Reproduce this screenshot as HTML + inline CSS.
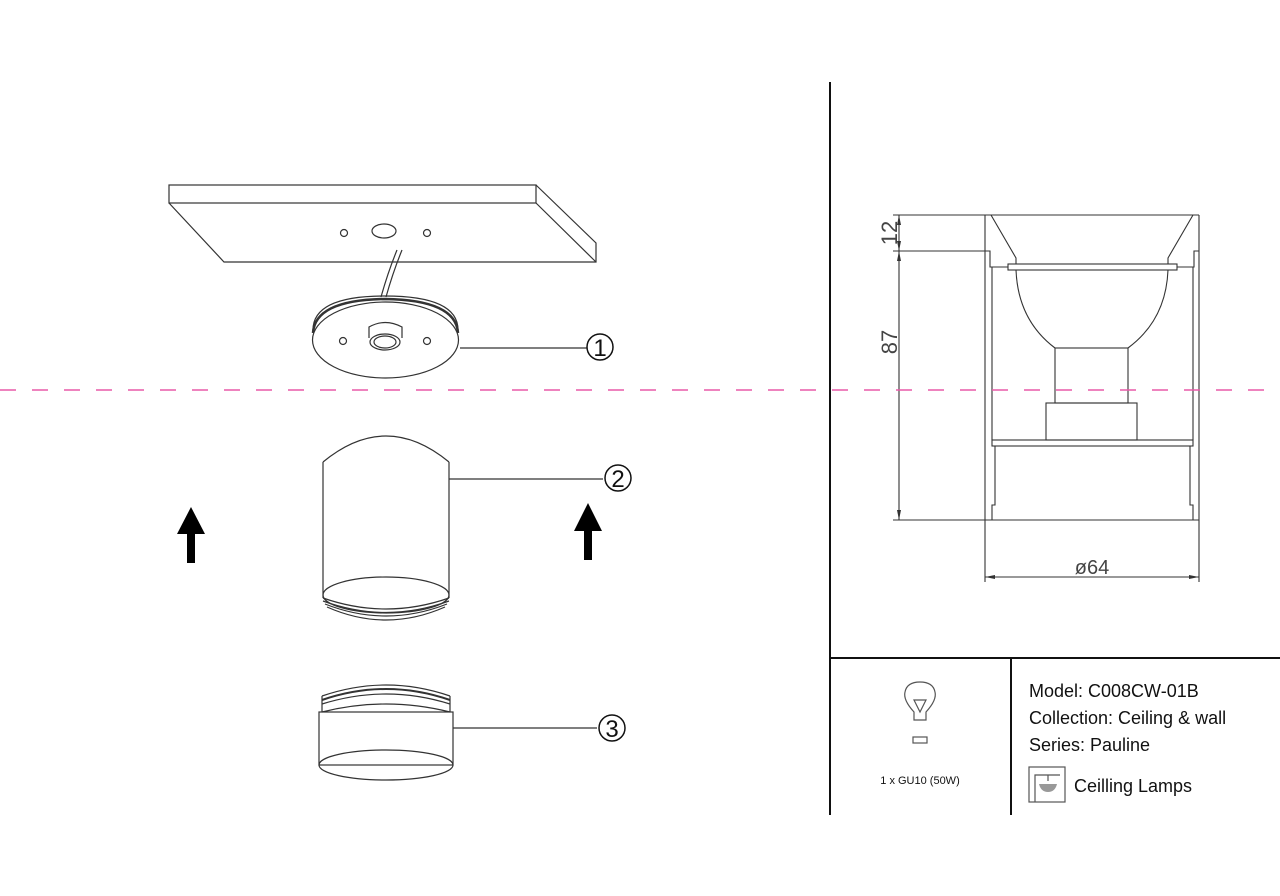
<!DOCTYPE html>
<html><head><meta charset="utf-8"><style>
html,body{margin:0;padding:0;background:#fff;}
svg{display:block;}
text{font-family:"Liberation Sans",sans-serif;}
</style></head><body>
<svg width="1280" height="896" viewBox="0 0 1280 896" xmlns="http://www.w3.org/2000/svg">
<rect width="1280" height="896" fill="#fff"/>
<g fill="none" stroke="#333" stroke-width="1.2">
<!-- plate -->
<rect x="169" y="185" width="367" height="18"/>
<polyline points="169,203 224,262 596,262 596,243 536,185"/>
<line x1="536" y1="203" x2="596" y2="262"/>
<circle cx="344" cy="233" r="3.5"/>
<ellipse cx="384" cy="231" rx="12" ry="7"/>
<circle cx="427" cy="233" r="3.5"/>
<path d="M397,250 Q388,272 381,297"/>
<path d="M402,250 Q393,272 386,297"/>
<!-- disc -->
<path d="M313,330 Q313,296 385,296 Q458,296 458,330"/>
<path d="M313,333 Q315,300 385,299 Q456,300 458,333" stroke-width="2.5"/>
<ellipse cx="385.5" cy="340" rx="73" ry="38"/>
<path d="M369,338 L369,327 Q385,318 402,327 L402,338"/>
<ellipse cx="385" cy="342" rx="15" ry="8"/>
<ellipse cx="385" cy="342" rx="11" ry="6"/>
<circle cx="343" cy="341" r="3.5"/>
<circle cx="427" cy="341" r="3.5"/>
<line x1="460" y1="348" x2="587" y2="348"/>
<!-- cylinder 2 -->
<path d="M323,462 Q386,410 449,462"/>
<line x1="323" y1="462" x2="323" y2="598"/>
<line x1="449" y1="462" x2="449" y2="598"/>
<ellipse cx="386" cy="595" rx="63" ry="18"/>
<path d="M323,598 Q386,620 449,598"/>
<path d="M323,601 Q386,624 449,601"/>
<path d="M325,604 Q386,628 447,604"/>
<path d="M327,607 Q386,633 445,607"/>
<line x1="449" y1="479" x2="603" y2="479"/>
<!-- part 3 -->
<path d="M322,696 Q386,674 450,696"/>
<path d="M322,700 Q386,678 450,700" stroke-width="2"/>
<path d="M322,704 Q386,684 450,704"/>
<line x1="322" y1="696" x2="322" y2="712"/>
<line x1="450" y1="696" x2="450" y2="712"/>
<path d="M322,712 Q386,696 450,712"/>
<rect x="319" y="712" width="134" height="53"/>
<ellipse cx="386" cy="765" rx="67" ry="15"/>
<line x1="453" y1="728" x2="597" y2="728"/>
</g>
<g font-size="26" fill="#111">
<circle cx="600" cy="347" r="13" fill="none" stroke="#111" stroke-width="1.5"/><text x="600" y="356" text-anchor="middle" font-family="Liberation Serif" font-size="24">1</text>
<circle cx="618" cy="478" r="13" fill="none" stroke="#111" stroke-width="1.5"/><text x="618" y="487" text-anchor="middle" font-family="Liberation Serif" font-size="24">2</text>
<circle cx="612" cy="728" r="13" fill="none" stroke="#111" stroke-width="1.5"/><text x="612" y="737" text-anchor="middle" font-family="Liberation Serif" font-size="24">3</text>
</g>
<!-- arrows -->
<polygon points="191,507 205,534 195,534 195,563 187,563 187,534 177,534" fill="#000"/>
<polygon points="588,503 602,531 592,531 592,560 584,560 584,531 574,531" fill="#000"/>
<!-- frame lines -->
<g stroke="#111" stroke-width="2" fill="none">
<line x1="830" y1="82" x2="830" y2="815"/>
<line x1="830" y1="658" x2="1280" y2="658"/>
<line x1="1011" y1="658" x2="1011" y2="815"/>
</g>
<!-- dimension drawing -->
<g fill="none" stroke="#333" stroke-width="1.1">
<line x1="985" y1="215" x2="1199" y2="215"/>
<line x1="985" y1="215" x2="985" y2="520"/>
<line x1="1199" y1="215" x2="1199" y2="520"/>
<line x1="985" y1="520" x2="1199" y2="520"/>
<polyline points="991,215 1016,258 1016,264"/>
<polyline points="1193,215 1168,258 1168,264"/>
<polyline points="985,251 990,251 990,267 1008,267"/>
<polyline points="1199,251 1194,251 1194,267 1177,267"/>
<rect x="1008" y="264" width="169" height="6"/>
<path d="M1016,270 Q1018,320 1055,348"/>
<path d="M1168,270 Q1166,320 1128,348"/>
<rect x="1055" y="348" width="73" height="55"/>
<rect x="1046" y="403" width="91" height="37"/>
<line x1="992" y1="267" x2="992" y2="440"/>
<line x1="1193" y1="267" x2="1193" y2="440"/>
<rect x="992" y="440" width="201" height="6"/>
<polyline points="995,446 995,505 992,505 992,520"/>
<polyline points="1190,446 1190,505 1193,505 1193,520"/>
<!-- dims -->
<line x1="899" y1="215" x2="899" y2="520"/>
<line x1="893" y1="215" x2="985" y2="215"/>
<line x1="893" y1="251" x2="985" y2="251"/>
<line x1="893" y1="520" x2="985" y2="520"/>
<line x1="985" y1="520" x2="985" y2="582"/>
<line x1="1199" y1="520" x2="1199" y2="582"/>
<line x1="985" y1="577" x2="1199" y2="577"/>
</g>
<g fill="#333">
<polygon points="899,215 897,225 901,225"/><polygon points="899,251 897,241 901,241"/>
<polygon points="899,251 897,261 901,261"/><polygon points="899,520 897,510 901,510"/>
<polygon points="985,577 995,575 995,579"/><polygon points="1199,577 1189,575 1189,579"/>
</g>
<g fill="#444" font-size="22">
<text transform="translate(897,233) rotate(-90)" text-anchor="middle">12</text>
<text transform="translate(897,342) rotate(-90)" text-anchor="middle">87</text>
<text x="1092" y="574" text-anchor="middle" font-size="20">ø64</text>
</g>
<!-- dashed line -->
<line x1="0" y1="390" x2="1280" y2="390" stroke="#e85aa8" stroke-width="1.5" stroke-dasharray="16,16"/>
<!-- bulb icon -->
<g fill="none" stroke="#555" stroke-width="1.2">
<path d="M914,720 L914,712 Q903,700 905,692 Q907,682 920,682 Q933,682 935,692 Q937,700 926,712 L926,720 Z"/>
<polygon points="914,700 926,700 920,712"/>
<rect x="913" y="737" width="14" height="6"/>
<rect x="1029" y="767" width="36" height="35"/>
<polyline points="1035,802 1035,775 1060,775"/>
<line x1="1048" y1="775" x2="1048" y2="781"/>
</g>
<path d="M1039,784 L1057,784 Q1055,792 1048,792 Q1041,792 1039,784 Z" fill="#999"/>
<text x="920" y="784" font-size="11" text-anchor="middle" fill="#111">1 x GU10 (50W)</text>
<g font-size="18" fill="#111">
<text x="1029" y="697">Model: C008CW-01B</text>
<text x="1029" y="724">Collection: Ceiling &amp; wall</text>
<text x="1029" y="751">Series: Pauline</text>
<text x="1074" y="792">Ceilling Lamps</text>
</g>
</svg>
</body></html>
